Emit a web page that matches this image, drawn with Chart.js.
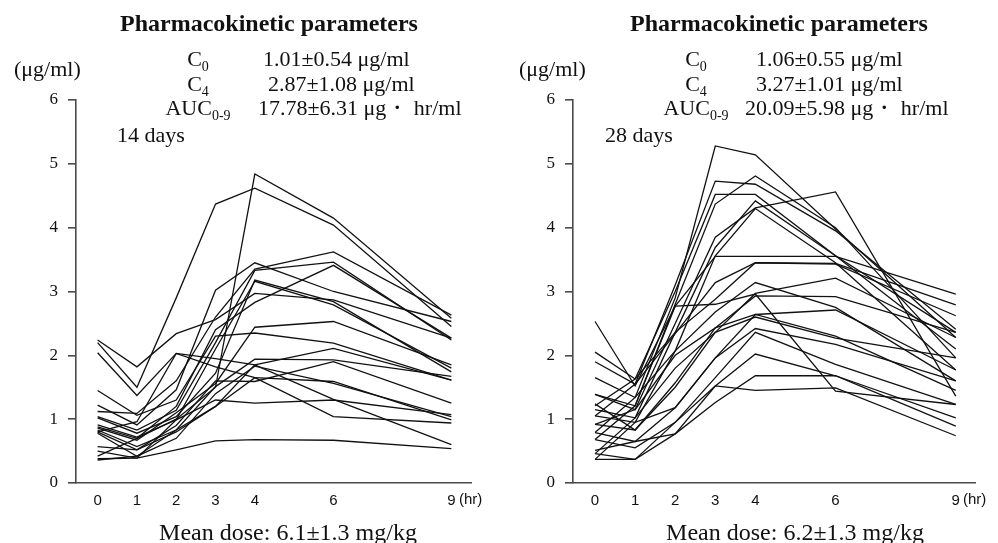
<!DOCTYPE html>
<html>
<head>
<meta charset="utf-8">
<script src="https://cdn.jsdelivr.net/npm/chart.js@4/dist/chart.umd.min.js"></script>
<style>
  body { margin: 0; background: #fff; }
  #wrap { position: relative; width: 998px; height: 543px; overflow: hidden; }
  canvas { position: absolute; top: 0; }
  .t { position: absolute; font-family: "Liberation Serif", "Times New Roman", serif; color: #111; line-height: 1; white-space: nowrap; }
  .t sub { font-size: 14px; vertical-align: -5px; line-height: 0; }
  .title { font-size: 24px; font-weight: bold; text-align: center; width: 400px; }
  .p { font-size: 22px; }
  .lab { text-align: center; width: 100px; }
  .hr { position: absolute; font-family: "Liberation Sans", Arial, sans-serif; font-size: 15px; line-height: 1; color: #111; }
</style>
</head>
<body>
<div id="wrap">
  <canvas id="chart14" width="499" height="543" style="left:0"></canvas>
  <canvas id="chart28" width="499" height="543" style="left:499px"></canvas>

  <!-- panel 14 days -->
  <div class="t title" style="left:69px; top:11px">Pharmacokinetic parameters</div>
  <div class="t p" style="left:14px; top:58px">(μg/ml)</div>
  <div class="t p lab" style="left:148px; top:48px">C<sub>0</sub></div>
  <div class="t p" style="left:263px; top:48px">1.01±0.54 μg/ml</div>
  <div class="t p lab" style="left:148px; top:73px">C<sub>4</sub></div>
  <div class="t p" style="left:268px; top:73px">2.87±1.08 μg/ml</div>
  <div class="t p lab" style="left:148px; top:97px">AUC<sub>0-9</sub></div>
  <div class="t p" style="left:258px; top:97px">17.78±6.31 μg・ hr/ml</div>
  <div class="t p" style="left:117px; top:124px">14 days</div>
  <div class="hr" style="left:459px; top:491px">(hr)</div>
  <div class="t title" style="left:88px; top:520px; font-weight:normal">Mean dose: 6.1±1.3 mg/kg</div>

  <!-- panel 28 days -->
  <div class="t title" style="left:579px; top:11px">Pharmacokinetic parameters</div>
  <div class="t p" style="left:519px; top:58px">(μg/ml)</div>
  <div class="t p lab" style="left:646px; top:48px">C<sub>0</sub></div>
  <div class="t p" style="left:756px; top:48px">1.06±0.55 μg/ml</div>
  <div class="t p lab" style="left:646px; top:73px">C<sub>4</sub></div>
  <div class="t p" style="left:756px; top:73px">3.27±1.01 μg/ml</div>
  <div class="t p lab" style="left:646px; top:97px">AUC<sub>0-9</sub></div>
  <div class="t p" style="left:745px; top:97px">20.09±5.98 μg・ hr/ml</div>
  <div class="t p" style="left:605px; top:124px">28 days</div>
  <div class="hr" style="left:963px; top:491px">(hr)</div>
  <div class="t title" style="left:595px; top:520px; font-weight:normal">Mean dose: 6.2±1.3 mg/kg</div>
</div>

<script>
// sampling times (hr)
const hours = [0, 1, 2, 3, 4, 6, 9];
const xTicks = [0, 1, 2, 3, 4, 6, 9];
const yTicks = [0, 1, 2, 3, 4, 5, 6];

// serum concentration per patient (µg/ml) at each time, 14 days
const conc14 = [
  [2.20, 1.50, 2.90, 4.37, 4.62, 4.04, 2.45],
  [0.42, 0.70, 1.00, 1.50, 4.84, 4.15, 2.58],
  [2.24, 1.82, 2.34, 2.56, 2.97, 2.87, 2.27],
  [2.04, 1.37, 2.03, 1.82, 1.65, 1.04, 0.94],
  [1.45, 1.06, 1.30, 2.30, 2.35, 2.19, 1.61],
  [1.22, 0.91, 1.46, 3.02, 3.45, 3.00, 2.53],
  [1.12, 1.09, 1.60, 2.60, 3.35, 3.62, 2.63],
  [1.04, 0.83, 1.14, 2.20, 3.33, 3.46, 2.24],
  [1.02, 0.78, 1.04, 1.72, 3.18, 2.84, 1.74],
  [0.91, 0.72, 0.99, 2.10, 3.16, 2.79, 1.80],
  [0.88, 0.70, 1.20, 2.40, 2.83, 3.41, 2.27],
  [0.86, 0.67, 1.10, 1.56, 2.44, 2.53, 1.85],
  [0.83, 0.57, 0.83, 1.51, 1.94, 1.93, 1.67],
  [0.80, 0.52, 0.80, 1.20, 1.85, 2.11, 1.61],
  [0.78, 0.42, 0.70, 1.40, 1.83, 1.56, 1.04],
  [0.57, 0.52, 0.90, 1.60, 1.59, 1.90, 1.25],
  [0.50, 0.39, 0.99, 1.30, 1.25, 1.30, 1.07],
  [0.38, 0.39, 0.52, 0.66, 0.68, 0.67, 0.54],
  [0.36, 0.42, 0.83, 1.20, 1.65, 1.59, 0.99],
  [0.80, 0.96, 2.03, 1.95, 1.85, 1.31, 0.60]
];

// same, 28 days
const conc28 = [
  [0.79, 1.34, 2.90, 5.28, 5.14, 3.98, 2.28],
  [1.05, 1.55, 3.10, 4.73, 4.68, 3.95, 2.41],
  [1.21, 1.63, 3.00, 4.52, 4.52, 3.56, 2.36],
  [0.68, 1.21, 2.80, 4.37, 4.81, 4.00, 1.96],
  [0.92, 1.15, 2.50, 3.85, 4.31, 4.56, 1.36],
  [0.46, 1.02, 2.36, 3.69, 4.42, 3.56, 2.10],
  [0.37, 0.95, 2.07, 3.56, 4.30, 3.45, 1.77],
  [2.53, 1.52, 2.77, 3.55, 3.55, 3.55, 2.96],
  [1.90, 1.55, 2.34, 3.14, 3.45, 3.44, 2.79],
  [2.05, 1.63, 2.36, 2.88, 3.45, 3.43, 2.62],
  [1.65, 1.34, 2.07, 2.68, 3.14, 2.75, 1.60],
  [1.39, 1.21, 2.77, 2.80, 2.96, 1.44, 1.23],
  [1.24, 0.83, 1.57, 2.43, 2.93, 2.92, 2.36],
  [1.15, 1.02, 1.80, 2.36, 2.97, 3.21, 2.28],
  [1.05, 0.95, 1.18, 1.96, 2.64, 2.30, 1.45],
  [0.92, 0.83, 1.50, 2.36, 2.60, 2.27, 1.96],
  [0.79, 0.65, 1.18, 1.96, 2.42, 2.17, 1.60],
  [0.68, 0.55, 0.95, 1.65, 2.36, 1.86, 1.23],
  [0.51, 0.65, 0.77, 1.52, 2.02, 1.68, 1.02],
  [0.46, 0.37, 0.77, 1.26, 1.68, 1.68, 0.89],
  [0.37, 0.37, 0.95, 1.52, 1.45, 1.49, 0.74],
  [1.39, 1.15, 2.00, 2.43, 2.64, 2.71, 1.77]
];

const axisColor = '#4a4a4a';

function makeChart(id, rows, xMax, yAxisWidth, rightPad) {
  const datasets = rows.map(r => ({
    data: r.map((v, i) => ({ x: hours[i], y: v })),
    borderColor: '#111',
    borderWidth: 1.3,
    pointRadius: 0,
    tension: 0,
    fill: false
  }));

  return new Chart(document.getElementById(id), {
    type: 'line',
    data: { datasets },
    options: {
      responsive: false,
      animation: false,
      layout: { padding: { top: 100, right: rightPad, left: 0, bottom: 0 } },
      plugins: { legend: { display: false }, tooltip: { enabled: false } },
      scales: {
        x: {
          type: 'linear',
          min: -0.55,
          max: xMax,
          afterBuildTicks: s => { s.ticks = xTicks.map(v => ({ value: v })); },
          afterFit: s => { s.height = 60; },
          grid: { drawOnChartArea: false, drawTicks: false },
          border: { color: axisColor, width: 1.6 },
          ticks: {
            color: '#111',
            padding: 9,
            maxRotation: 0,
            font: { family: '"Liberation Sans", Arial, sans-serif', size: 15 }
          }
        },
        y: {
          min: 0,
          max: 6,
          afterBuildTicks: s => { s.ticks = yTicks.map(v => ({ value: v })); },
          afterFit: s => { s.width = yAxisWidth; },
          grid: { drawOnChartArea: false, drawTicks: true, tickLength: 8, color: axisColor, lineWidth: 1.6 },
          border: { color: axisColor, width: 1.6 },
          ticks: {
            color: '#111',
            padding: 10,
            font: { family: '"Liberation Serif", "Times New Roman", serif', size: 17 }
          }
        }
      }
    }
  });
}

makeChart('chart14', conc14, 9.5, 76, 28);
makeChart('chart28', conc28, 9.48, 74, 23);
</script>
</body>
</html>
